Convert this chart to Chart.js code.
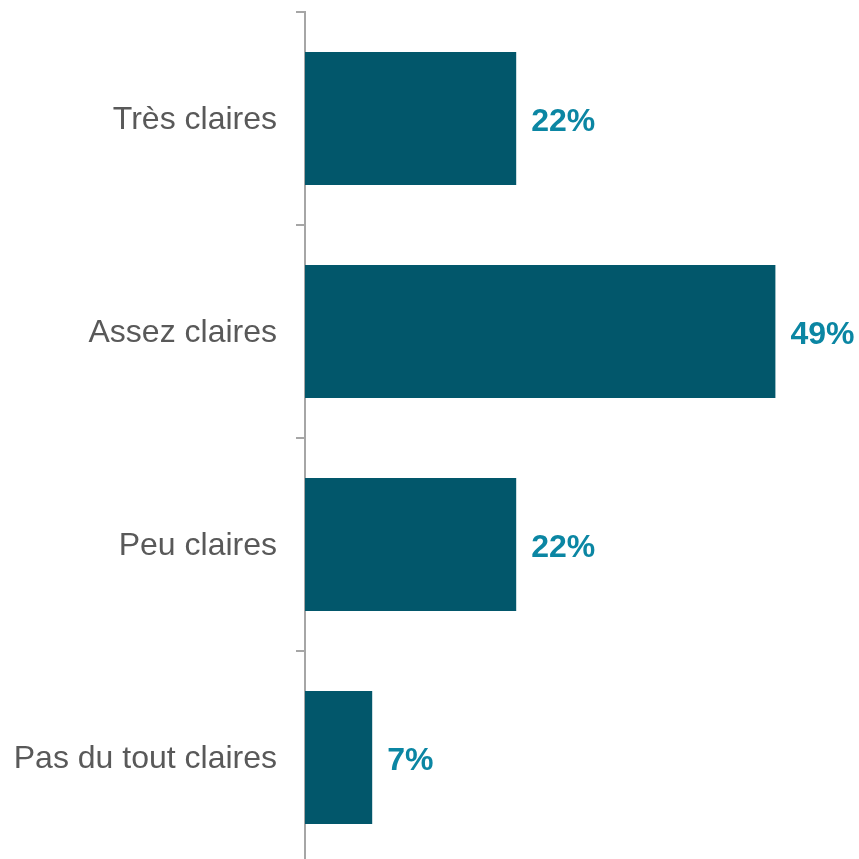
<!DOCTYPE html>
<html>
<head>
<meta charset="utf-8">
<script src="https://cdn.jsdelivr.net/npm/chart.js@4"></script>
<style>
html,body{margin:0;padding:0;background:#fff;overflow:hidden;}
#wrap{width:859px;height:870px;position:relative;}
</style>
</head>
<body>
<div id="wrap"><canvas id="c"></canvas></div>
<script>
const categories = ["Très claires", "Assez claires", "Peu claires", "Pas du tout claires"];
const values = [22, 49, 22, 7];
const valueLabels = ["22%", "49%", "22%", "7%"];

const FONT = "'Liberation Sans', Arial, sans-serif";

const valueLabelPlugin = {
  id: 'valueLabels',
  afterDatasetsDraw(chart) {
    const ctx = chart.ctx;
    const meta = chart.getDatasetMeta(0);
    ctx.save();
    ctx.font = "bold 32px " + FONT;
    ctx.fillStyle = "#0B86A3";
    ctx.textAlign = "left";
    ctx.textBaseline = "middle";
    meta.data.forEach((bar, i) => {
      ctx.fillText(valueLabels[i], bar.x + 15, bar.y + 4);
    });
    ctx.restore();
  }
};

new Chart(document.getElementById('c'), {
  type: 'bar',
  data: {
    labels: categories,
    datasets: [{
      data: values,
      backgroundColor: "#02576B",
      borderWidth: 0,
      barPercentage: 0.625,
      categoryPercentage: 1.0
    }]
  },
  options: {
    indexAxis: 'y',
    responsive: true,
    maintainAspectRatio: false,
    animation: false,
    layout: { padding: { top: 12, bottom: 6, left: 0, right: 26 } },
    plugins: { legend: { display: false }, tooltip: { enabled: false } },
    scales: {
      x: {
        display: false,
        min: 0,
        max: 55
      },
      y: {
        afterFit(scale) { scale.width = 305; scale.paddingTop = 0; scale.paddingBottom = 0; },
        grid: {
          display: true,
          drawOnChartArea: false,
          drawTicks: true,
          tickLength: 9,
          color: "#a6a6a6",
          lineWidth: 2,
          offset: true
        },
        border: { display: true, color: "#a6a6a6", width: 2 },
        ticks: {
          color: "#595959",
          padding: 19,
          labelOffset: 2,
          font: { family: FONT, size: 32 }
        }
      }
    }
  },
  plugins: [valueLabelPlugin]
});
</script>
</body>
</html>
